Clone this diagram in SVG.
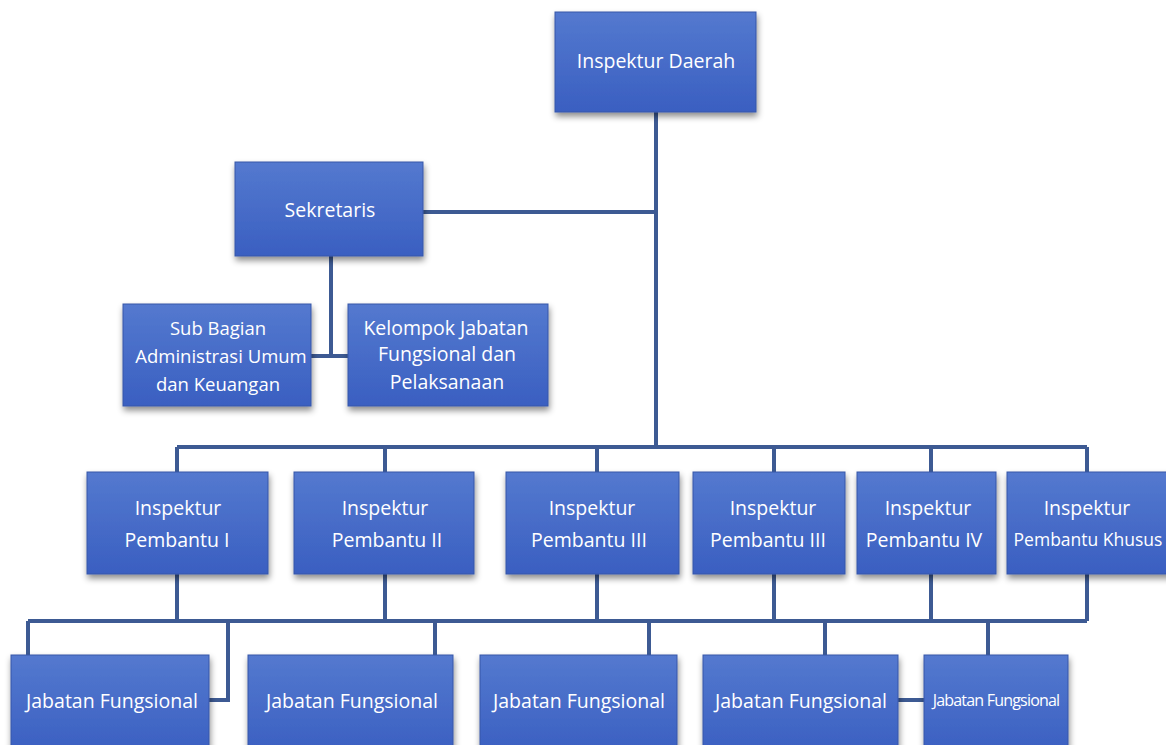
<svg xmlns="http://www.w3.org/2000/svg" width="1166" height="745" viewBox="0 0 1166 745">
<defs>
<linearGradient id="g" x1="0" y1="0" x2="0" y2="1">
<stop offset="0" stop-color="#5479cf"/>
<stop offset="1" stop-color="#3a5fc1"/>
</linearGradient>
<filter id="sh" x="-10%" y="-10%" width="125%" height="135%">
<feDropShadow dx="1" dy="4" stdDeviation="3" flood-color="#000" flood-opacity="0.45"/>
</filter>
<style>
.b{fill:url(#g);stroke:#3656a8;stroke-width:1;filter:url(#sh)}
.t{fill:#fff;font-family:"Open Sans","Noto Sans",sans-serif;font-size:19.5px;text-anchor:middle;dominant-baseline:central}
.c{fill:none;stroke:#3d5a93;stroke-width:4}
</style>
</defs>
<rect width="1166" height="745" fill="#fff"/>
<g id="connectors">
<path class="c" d="M656 112V447M423 212H656M331 256V356M311 356H348"/>
<path class="c" d="M177 447H1087M177 447V472M385 447V472M597 447V472M774 447V472M931 447V472M1087 447V472"/>
<path class="c" d="M177 574V621M385 574V621M597 574V621M774 574V621M931 574V621M1087 574V621"/>
<path class="c" d="M28 621H1087M28 621V655M228 621V700H209M435 621V655M649 621V655M825 621V655M988 621V655M898 700H924"/>
</g>
<g id="inspektur-daerah"><rect class="b" x="555" y="12" width="201" height="100"/><text class="t" x="656" y="60">Inspektur Daerah</text></g>
<g id="sekretaris"><rect class="b" x="235" y="162" width="188" height="94"/><text class="t" x="330" y="209">Sekretaris</text></g>
<g id="sub-bagian"><rect class="b" x="123" y="304" width="188" height="102"/><text class="t" x="218" y="327" style="font-size:18.5px">Sub Bagian</text><text class="t" x="221" y="355" style="font-size:18.5px">Administrasi Umum</text><text class="t" x="218" y="383" style="font-size:18.5px">dan Keuangan</text></g>
<g id="kelompok"><rect class="b" x="348" y="304" width="200" height="102"/><text class="t" x="446" y="327">Kelompok Jabatan</text><text class="t" x="447" y="353">Fungsional dan</text><text class="t" x="447" y="381">Pelaksanaan</text></g>
<g id="pembantu-1"><rect class="b" x="87" y="472" width="181" height="102"/><text class="t" x="178" y="507">Inspektur</text><text class="t" x="177" y="539">Pembantu I</text></g>
<g id="pembantu-2"><rect class="b" x="294" y="472" width="180" height="102"/><text class="t" x="385" y="507">Inspektur</text><text class="t" x="387" y="539">Pembantu II</text></g>
<g id="pembantu-3a"><rect class="b" x="506" y="472" width="173" height="102"/><text class="t" x="592" y="507">Inspektur</text><text class="t" x="589" y="539">Pembantu III</text></g>
<g id="pembantu-3b"><rect class="b" x="693" y="472" width="152" height="102"/><text class="t" x="773" y="507">Inspektur</text><text class="t" x="768" y="539">Pembantu III</text></g>
<g id="pembantu-4"><rect class="b" x="857" y="472" width="139" height="102"/><text class="t" x="928" y="507">Inspektur</text><text class="t" x="924" y="539">Pembantu IV</text></g>
<g id="pembantu-khusus"><rect class="b" x="1007" y="472" width="165" height="102"/><text class="t" x="1087" y="507">Inspektur</text><text class="t" x="1088" y="539" style="font-size:17.5px">Pembantu Khusus</text></g>
<g id="jabatan-1"><rect class="b" x="11" y="655" width="198" height="100"/><text class="t" x="112" y="700">Jabatan Fungsional</text></g>
<g id="jabatan-2"><rect class="b" x="248" y="655" width="205" height="100"/><text class="t" x="352" y="700">Jabatan Fungsional</text></g>
<g id="jabatan-3"><rect class="b" x="480" y="655" width="197" height="100"/><text class="t" x="579" y="700">Jabatan Fungsional</text></g>
<g id="jabatan-4"><rect class="b" x="703" y="655" width="195" height="100"/><text class="t" x="801" y="700">Jabatan Fungsional</text></g>
<g id="jabatan-5"><rect class="b" x="924" y="655" width="144" height="100"/><text class="t" x="996" y="700" style="font-size:16px;letter-spacing:-0.8px">Jabatan Fungsional</text></g>
</svg>
